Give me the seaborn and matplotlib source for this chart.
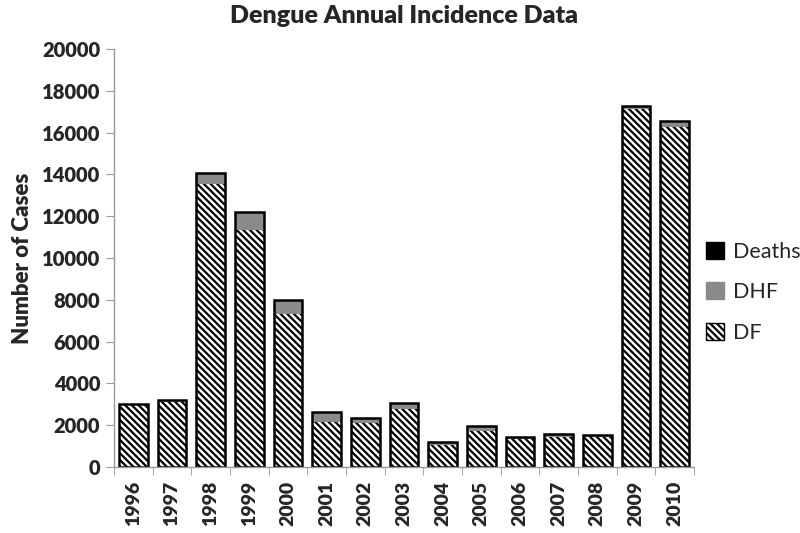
import numpy as np
import pandas as pd
import matplotlib
matplotlib.use("Agg")
import matplotlib.pyplot as plt
from matplotlib.patches import Patch
import seaborn as sns

# -----------------------
# Data
# -----------------------
years = ['1996', '1997', '1998', '1999', '2000', '2001', '2002', '2003',
         '2004', '2005', '2006', '2007', '2008', '2009', '2010']
df_cases = [2990, 3130, 13550, 11350, 7300, 2150, 2100, 2780,
            1050, 1700, 1350, 1420, 1450, 17150, 16250]
dhf_cases = [30, 60, 500, 800, 650, 450, 230, 250,
             130, 230, 60, 150, 50, 100, 280]
deaths = [10, 10, 40, 40, 30, 30, 20, 20,
          10, 20, 10, 20, 10, 10, 20]

# -----------------------
# Style
# -----------------------
sns.set_style('white')
plt.rcParams['font.family'] = ['Lato', 'DejaVu Sans']
plt.rcParams['hatch.linewidth'] = 1.6

data = pd.DataFrame({'Year': years, 'DF': df_cases, 'DHF': dhf_cases, 'Deaths': deaths})
data['DF+DHF'] = data['DF'] + data['DHF']
data['Total'] = data['DF+DHF'] + data['Deaths']

fig = plt.figure(figsize=(8, 5.33), dpi=100)
ax = fig.add_axes([0.1425, 0.124, 0.725, 0.784])

bar_w = 0.74
hatch = '\\\\\\\\\\'
# stack drawn from the top layer down so each lower layer covers the one above
sns.barplot(data=data, x='Year', y='Total', color='black', width=bar_w,
            saturation=1, linewidth=0, edgecolor='black', ax=ax)
sns.barplot(data=data, x='Year', y='DF+DHF', color='#8a8a8a', width=bar_w,
            saturation=1, linewidth=0, edgecolor='#8a8a8a', ax=ax)
sns.barplot(data=data, x='Year', y='DF', color='white', width=bar_w,
            saturation=1, linewidth=0, edgecolor='black', hatch=hatch, ax=ax)
# outline around every bar
sns.barplot(data=data, x='Year', y='Total', fill=False, width=bar_w,
            linewidth=1.8, edgecolor='black', ax=ax)

ax.set_ylim(0, 20000)
ax.set_xlim(-0.5, len(years) - 0.5)
ax.set_yticks(np.arange(0, 20001, 2000))
ax.set_title('Dengue Annual Incidence Data', fontsize=18, fontweight='heavy', pad=19)
ax.set_ylabel('Number of Cases', fontsize=16, fontweight='heavy', labelpad=6)
ax.set_xlabel('')

for lab in ax.get_yticklabels():
    lab.set_fontweight('heavy')
    lab.set_fontsize(14.5)
ax.set_xticks(range(len(years)))
ax.set_xticklabels(years, rotation=90, fontsize=14, fontweight='heavy')
ax.set_xticks(np.arange(-0.5, len(years), 1), minor=True)
ax.tick_params(axis='x', which='major', length=0, pad=10)
ax.tick_params(axis='x', which='minor', length=6, color='#999999', direction='out', bottom=True)
ax.tick_params(axis='y', length=6, color='#999999', direction='out', left=True, pad=4)

for side in ['top', 'right']:
    ax.spines[side].set_visible(False)
for side in ['left', 'bottom']:
    ax.spines[side].set_color('#999999')
    ax.spines[side].set_linewidth(1)

handles = [
    Patch(facecolor='black', edgecolor='black', label='Deaths'),
    Patch(facecolor='#8a8a8a', edgecolor='#8a8a8a', label='DHF'),
    Patch(facecolor='white', edgecolor='black', hatch=hatch, label='DF'),
]
fig.legend(handles=handles, loc='center left', bbox_to_anchor=(0.882, 0.452),
           frameon=False, fontsize=15.5, labelspacing=0.95, handlelength=0.85,
           handleheight=0.85, handletextpad=0.4, borderaxespad=0, borderpad=0)

fig.savefig('out.png', dpi=100)
